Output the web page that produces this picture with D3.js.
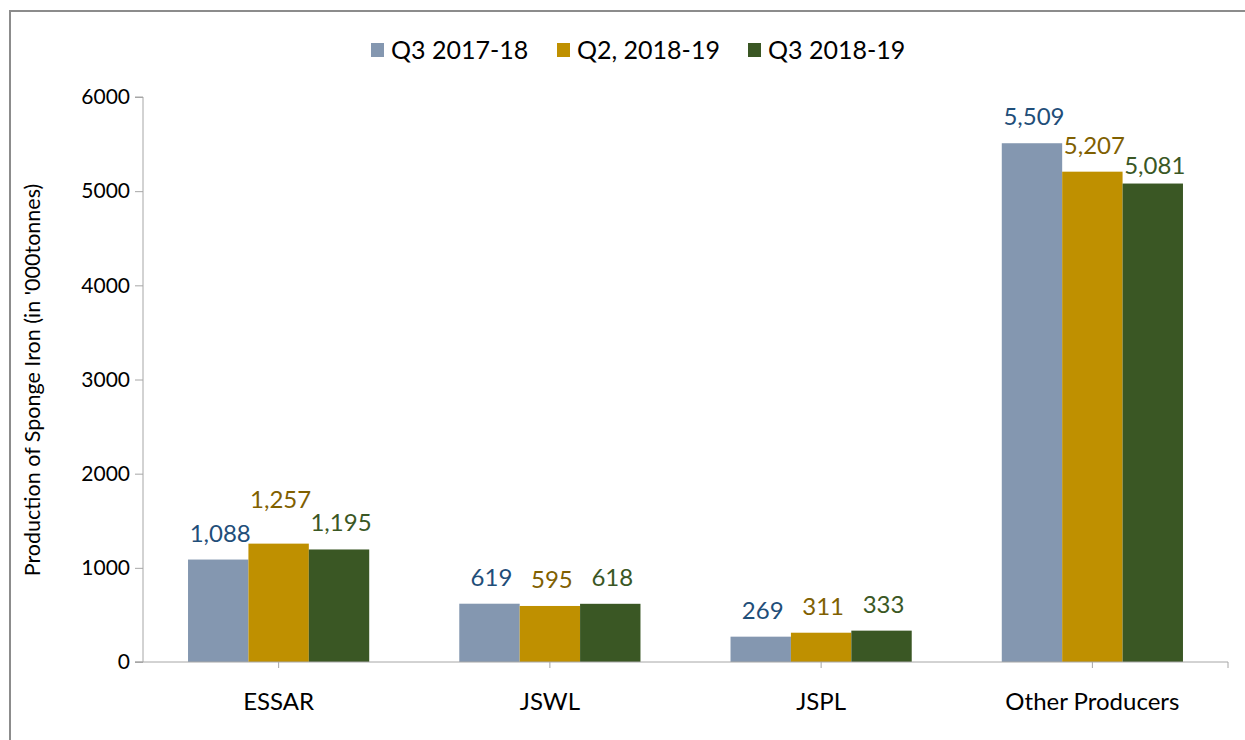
<!DOCTYPE html>
<html><head><meta charset="utf-8">
<script src="https://cdn.jsdelivr.net/npm/d3@7"></script>
<style>body{margin:0;background:#fff}svg{display:block}text{font-family:Lato,"Open Sans",sans-serif}</style>
</head><body><svg id="c" width="1245" height="740"></svg>
<script>
const categories = ["ESSAR", "JSWL", "JSPL", "Other Producers"];
const seriesNames = ["Q3 2017-18", "Q2, 2018-19", "Q3 2018-19"];
const q3_2017_18 = [1088, 619, 269, 5509];
const q2_2018_19 = [1257, 595, 311, 5207];
const q3_2018_19 = [1195, 618, 333, 5081];
const yTicks = [0, 1000, 2000, 3000, 4000, 5000, 6000];
const yTitle = "Production of Sponge Iron (in '000tonnes)";

const seriesValues = [q3_2017_18, q2_2018_19, q3_2018_19];
const barColors = ["#8497B0", "#BF9000", "#3A5724"];
const labelColors = ["#1F4E79", "#806000", "#3A5724"];
// small manual label nudges (px, upward) as in the original layout
const labelNudge = {"1-0": 18, "2-3": -8};

const svg = d3.select("#c");
const pLeft = 143, pRight = 1228, pTop = 97, pBottom = 662;

// frame
svg.append("rect").attr("x", 10).attr("y", 11).attr("width", 1260).attr("height", 760)
  .attr("fill", "none").attr("stroke", "#8c8c8c").attr("stroke-width", 2);

const x0 = d3.scaleBand().domain(categories).range([pLeft, pRight]).paddingInner(0.332).paddingOuter(0.166);
const x1 = d3.scaleBand().domain(seriesNames).range([0, x0.bandwidth()]);
const y = d3.scaleLinear().domain([0, 6000]).range([pBottom, pTop]);

// y axis
const ya = svg.append("g").attr("transform", `translate(${pLeft},0)`)
  .call(d3.axisLeft(y).tickValues(yTicks).tickSize(8).tickPadding(5).tickFormat(d3.format("d")));
ya.select(".domain").attr("stroke", "#a6a6a6").attr("d", `M-8,${pTop}H0V${pBottom}H-8`);
ya.selectAll(".tick line").attr("stroke", "#a6a6a6");
ya.selectAll(".tick text").attr("font-size", 21).attr("fill", "#000");

// bars
const groups = svg.append("g").selectAll("g").data(categories).join("g")
  .attr("transform", d => `translate(${x0(d)},0)`);
seriesNames.forEach((s, si) => {
  groups.append("rect")
    .attr("x", x1(s)).attr("width", x1.bandwidth())
    .attr("y", (d, ci) => y(seriesValues[si][ci]))
    .attr("height", (d, ci) => y(0) - y(seriesValues[si][ci]))
    .attr("fill", barColors[si]);
  groups.append("text")
    .attr("x", x1(s) + x1.bandwidth() / 2 + 2)
    .attr("y", (d, ci) => y(seriesValues[si][ci]) - 18 - (labelNudge[si + "-" + ci] || 0))
    .attr("text-anchor", "middle").attr("font-size", 24).attr("fill", labelColors[si])
    .text((d, ci) => d3.format(",")(seriesValues[si][ci]));
});

// x axis
const xa = svg.append("g").attr("transform", `translate(0,${pBottom})`)
  .call(d3.axisBottom(x0).tickSize(6).tickPadding(25));
xa.select(".domain").attr("stroke", "#a6a6a6").attr("d", `M${pLeft - 8},0H${pRight}V6`);
xa.selectAll(".tick line").attr("stroke", "#a6a6a6");
xa.selectAll(".tick text").attr("font-size", 24).attr("fill", "#000");

// y title
svg.append("text").attr("transform", "translate(40,380) rotate(-90)")
  .attr("text-anchor", "middle").attr("font-size", 21.5).attr("fill", "#000").text(yTitle);

// legend
const legendX = [371, 557, 748];
const lg = svg.append("g").selectAll("g").data(seriesNames).join("g")
  .attr("transform", (d, i) => `translate(${legendX[i]},43)`);
lg.append("rect").attr("width", 13).attr("height", 14).attr("fill", (d, i) => barColors[i]);
lg.append("text").attr("x", 20).attr("y", 16).attr("font-size", 25).attr("fill", "#000").text(d => d);
</script></body></html>
